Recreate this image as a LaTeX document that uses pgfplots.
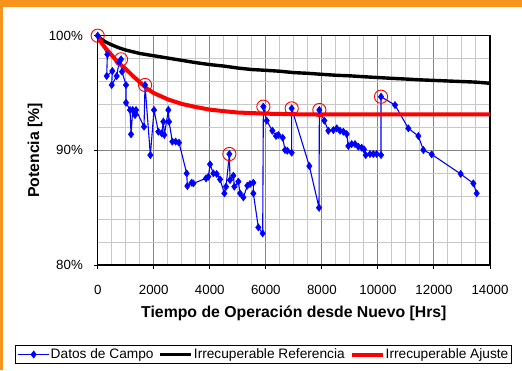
\documentclass[border=0pt]{standalone}
\usepackage{fontspec}
\setmainfont{Liberation Sans}
\usepackage{pgfplots}
\usepackage{pgfplotstable}
\pgfplotsset{compat=1.18}
\definecolor{frameorange}{HTML}{F7941E}
\definecolor{majgrid}{HTML}{858585}
\definecolor{mingrid}{HTML}{C8C8C8}
\pgfplotstableread{
x y
0 100
345 98.37
321 96.48
523 96.92
500 95.70
678 96.48
761 97.65
833 97.94
868 96.86
1011 95.70
1011 94.16
1154 93.52
1190 91.40
1249 93.52
1332 93.08
1368 93.52
1653 92.06
1689 95.70
1879 89.59
2010 93.52
2165 91.63
2284 91.48
2343 92.50
2379 91.34
2522 93.52
2546 92.50
2664 90.76
2783 90.76
2902 90.67
3176 87.99
3200 86.89
3354 87.18
3414 87.12
3866 87.56
3949 87.70
4009 88.78
4128 87.99
4247 87.94
4366 87.47
4520 86.25
4580 86.83
4699 89.68
4722 87.41
4841 87.79
4877 86.83
5020 87.27
5079 86.25
5198 85.90
5341 86.92
5436 87.06
5555 87.18
5555 86.25
5733 83.28
5888 82.76
5912 93.81
6031 92.59
6233 91.71
6364 91.25
6447 91.34
6602 91.10
6685 90.03
6768 89.97
6923 89.80
6923 93.66
7553 88.63
7898 85.00
7910 93.52
8089 92.59
8231 91.71
8410 91.77
8529 91.92
8648 91.71
8767 91.63
8886 91.42
8945 90.38
9064 90.55
9183 90.55
9302 90.32
9421 90.23
9504 90.09
9564 89.59
9718 89.68
9837 89.68
9956 89.68
10111 89.59
10111 94.68
10610 93.95
11086 91.92
11443 91.25
11622 90.03
11919 89.65
12954 87.94
13406 87.12
13525 86.25
}\campo
\pgfplotstableread{
x y
0 100
100 99.75
250 99.5
500 99.2
750 98.95
1000 98.75
1500 98.45
2000 98.25
2500 98.05
3000 97.85
3500 97.65
4000 97.48
4500 97.35
5000 97.18
5500 97.05
6000 96.98
6500 96.9
7000 96.78
7500 96.72
8000 96.63
8500 96.55
9000 96.5
9500 96.42
10000 96.35
10500 96.28
11000 96.22
11500 96.15
12000 96.1
12500 96.05
13000 96.0
13500 95.95
14000 95.85
}\referencia
\pgfplotstableread{
x y
0 100
100 99.5
250 99.0
500 98.3
750 97.6
1000 97.1
1250 96.5
1500 95.95
1750 95.4
2000 95.0
2500 94.45
3000 94.05
3500 93.78
4000 93.55
4500 93.42
5000 93.3
5500 93.25
6000 93.2
7000 93.15
8000 93.13
14000 93.13
}\ajuste
\pgfplotstableread{
x y
0 100
833 97.94
1689 95.70
4699 89.68
5912 93.81
6923 93.66
7910 93.52
10111 94.68
}\circulos
\begin{document}
\begin{tikzpicture}[x=1pt,y=1pt]
\path[use as bounding box] (0,0) rectangle (522,370);
\fill[frameorange] (0,362.7) rectangle (522,370);
\fill[frameorange] (0,0) rectangle (3,370);
\begin{axis}[
  at={(97.7pt,105pt)}, anchor=south west,
  scale only axis, width=392.3pt, height=229.3pt,
  xmin=0, xmax=14000, ymin=80, ymax=100,
  xtick={0,2000,...,14000},
  scaled x ticks=false,
  ytick={80,90,100}, yticklabels={80\%,90\%,100\%},
  minor x tick num=3, minor y tick num=4,
  grid=both,
  major grid style={majgrid, line width=1pt},
  minor grid style={mingrid, line width=1pt},
  tick align=outside, major tick length=4pt, minor tick length=0pt,
  xtick pos=bottom, ytick pos=left,
  tick style={black, line width=1pt},
  axis line style={black, line width=1.4pt},
  /pgf/number format/assume math mode=true,
  /pgf/number format/1000 sep={},
  ticklabel style={font=\fontsize{13.3}{16}\selectfont},
  xticklabel style={anchor=center, yshift=-21pt},
  yticklabel style={anchor=east, xshift=-7.3pt},
  xlabel={Tiempo de Operación desde Nuevo [Hrs]},
  ylabel={Potencia [\%]},
  label style={font=\bfseries\fontsize{15.8}{18}\selectfont},
  xlabel style={at={(axis description cs:0.5,-0.2093)}, anchor=center},
  ylabel style={at={(axis description cs:-0.1598,0.5)}, anchor=center},
  legend columns=3,
  legend style={at={(axis description cs:0.4226,-0.3903)}, anchor=center,
    draw=black, line width=0.8pt, font=\fontsize{13.7}{16}\selectfont,
    inner xsep=2pt, inner ysep=1pt,
    nodes={inner xsep=1pt, inner ysep=2pt},
    /tikz/every even column/.append style={column sep=4pt}},
  legend image code/.code={\draw[mark repeat=2, mark phase=2, #1] plot coordinates {(0pt,0pt) (15.5pt,0pt) (31pt,0pt)};},
]
\addplot[blue, line width=1.1pt, mark=diamond*, mark size=3.6pt, mark options={solid, fill=blue, draw=blue, line width=0.5pt}] table {\campo};
\addlegendentry{Datos de Campo}
\addplot[black, line width=3.4pt, no marks] table {\referencia};
\addlegendentry{Irrecuperable Referencia}
\addplot[red, line width=4pt, no marks] table {\ajuste};
\addlegendentry{Irrecuperable Ajuste}
\addplot[forget plot, only marks, mark=o, mark size=6.6pt, mark options={red, line width=0.9pt}] table {\circulos};
\end{axis}
\end{tikzpicture}
\end{document}
